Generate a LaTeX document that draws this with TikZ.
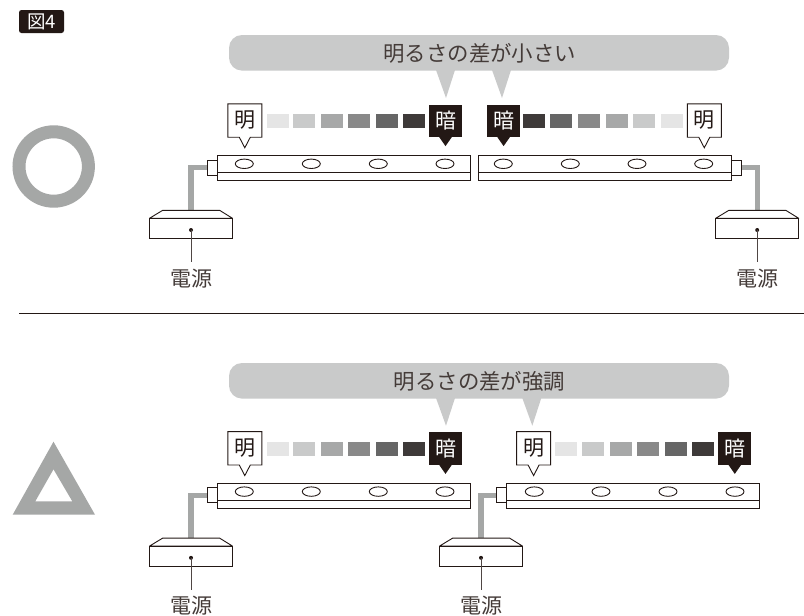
\documentclass[tikz,border=0pt]{standalone}
\usepackage{fontspec}
\setmainfont{Noto Sans CJK JP}
\usetikzlibrary{calc,shapes.geometric}
\pgfdeclarelayer{cablelayer}
\pgfsetlayers{cablelayer,main}
\definecolor{ink}{HTML}{231815}
\definecolor{bub}{HTML}{C9CACA}
\definecolor{ratecol}{HTML}{A5A7A6}
\definecolor{gA}{HTML}{E5E5E5}
\definecolor{gB}{HTML}{C9CACA}
\definecolor{gC}{HTML}{A7A8A8}
\definecolor{gD}{HTML}{898989}
\definecolor{gE}{HTML}{666666}
\definecolor{gF}{HTML}{3E3A39}
\tikzset{
  thinline/.style={draw=ink,line width=0.9pt},
  barbox/.style={thinline,fill=white,rectangle,inner sep=0pt,outer sep=0pt,anchor=north west},
  plugbox/.style={thinline,fill=white,rectangle,inner sep=0pt,outer sep=0pt,minimum width=10pt,minimum height=15pt},
  cable/.style={draw=ratecol,line width=5.4pt},
  led/.style={thinline,fill=white,ellipse,inner sep=0pt,minimum width=18pt,minimum height=9.4pt},
  swatch/.style={rectangle,inner sep=0pt,outer sep=0pt,minimum width=22pt,minimum height=14pt,anchor=north west},
  calltext/.style={rectangle,inner sep=0pt,outer sep=0pt,minimum width=34pt,minimum height=33.4pt,font=\fontsize{21}{21}\selectfont,text=ink},
  darktext/.style={rectangle,inner sep=0pt,outer sep=0pt,minimum width=33pt,minimum height=32.6pt,font=\fontsize{21}{21}\selectfont,text=white,fill=ink},
  psulabel/.style={inner sep=0pt,outer sep=0pt,font=\fontsize{21}{21}\selectfont,text=ink!85!white,minimum height=16pt},
  bubble/.style={fill=bub,rectangle,rounded corners=13pt,inner sep=0pt,outer sep=0pt,minimum width=500pt,minimum height=35.6pt},
  bubtext/.style={inner sep=0pt,font=\fontsize{21.4}{21.4}\selectfont,text=ink!85!white},
  leader/.style={draw=ink!80!white,line width=0.9pt},
}
% \psubox{id}{centre x}{y offset}
\newcommand{\psubox}[3]{%
  \path (#2,210.3+#3) coordinate (#1top);
  \begin{pgfonlayer}{cablelayer}
    \draw[cable] (#1plug.center) -| (#1top);
  \end{pgfonlayer}
  \draw[thinline,fill=white,line join=round] ($(#1top)+(-28.3,0)$) -- ($(#1top)+(28.6,0)$) -- ($(#1top)+(41.5,8)$) -- ($(#1top)+(-41.5,8)$) -- cycle;
  \node[barbox,minimum width=83pt,minimum height=20pt] (#1body) at ($(#1top)+(-41.5,8)$) {};
  \coordinate (#1dot) at (#2,230+#3);
  \fill[ink] (#1dot) circle (2pt);
  \node[psulabel] (#1lab) at (#2,278.3+#3) {電源};
  \draw[leader] (#1dot) -- ($(#1lab.north)+(0,-6.5)$);
}
% \strip{id}{left}{right}{y offset}{led1}{led2}{led3}{led4}
\newcommand{\strip}[8]{%
  \node[barbox,minimum width={#3-#2},minimum height=25pt] (#1bar) at (#2,155.3+#4) {};
  \draw[thinline] (#2,172.3+#4) -- (#3,172.3+#4);
  \node[led] (#1a) at (#5,163.8+#4) {};
  \node[led] (#1b) at (#6,163.8+#4) {};
  \node[led] (#1c) at (#7,163.8+#4) {};
  \node[led] (#1d) at (#8,163.8+#4) {};
}
% \lightcall{id}{centre x}{y offset}
\newcommand{\lightcall}[3]{%
  \node[calltext] (#1) at (#2,120.5+#3) {明};
  \draw[thinline,miter limit=10] (#1.north west) -- (#1.north east) -- (#1.south east)
    -- ($(#1.south)+(5.5,0)$) -- ($(#1.south)+(0,10.6)$) -- ($(#1.south)+(-5.5,0)$) -- (#1.south west) -- cycle;
}
\newcommand{\darkcall}[3]{%
  \node[darktext] (#1) at (#2,120.8+#3) {暗};
  \fill[ink] ($(#1.south)+(6.3,0)$) -- ($(#1.south)+(0,9)$) -- ($(#1.south)+(-6.3,0)$) -- cycle;
}
% \swatches{id}{five x positions}{y offset}{colour prefix}
\newcommand{\swatches}[8]{%
  \node[swatch,fill=#8A] (#1a) at (#2,114+#7) {};
  \node[swatch,fill=#8B] (#1b) at (#3,114+#7) {};
  \node[swatch,fill=#8C] (#1c) at (#4,114+#7) {};
  \node[swatch,fill=#8D] (#1d) at (#5,114+#7) {};
  \node[swatch,fill=#8E] (#1e) at (#6,114+#7) {};
}
\begin{document}
\begin{tikzpicture}[x=1pt,y=-1pt]
\useasboundingbox (0,0) rectangle (804,616);
\begin{pgfonlayer}{cablelayer}
\fill[white] (0,0) rectangle (804,616);
\end{pgfonlayer}

% badge
\node[fill=ink,rounded corners=2.5pt,minimum width=45pt,minimum height=23pt,inner sep=0pt,text=white,font=\fontsize{18.5}{18.5}\selectfont] (badge) at (41.5,21.5) {図4};

% rating marks
\draw[ratecol,line width=13pt] (53.7,166.5) circle (34.7pt);
\fill[ratecol,even odd rule] (53.5,441.7) -- (95,514.7) -- (12.7,514.7) -- cycle
  (53.5,469.3) -- (72.3,501.3) -- (35.3,501.3) -- cycle;

% divider
\coordinate (divL) at (19,313.5);
\coordinate (divR) at (804,313.5);
\draw[ink,line width=0.8pt] (divL) -- (divR);

% ---------- upper panel
\fill[bub] (436,70) -- (446,98) -- (455,70) -- cycle;
\fill[bub] (492,70) -- (502,98) -- (511,70) -- cycle;
\node[bubble] (bubT) at (479,52.8) {};
\node[bubtext] (bubTt) at (479.7,53) {明るさの差が小さい};

\swatches{sa}{266.7}{293}{321}{348}{376}{0}{g}
\node[swatch,fill=gF] (saf) at (403,114) {};
\lightcall{m1}{244.8}{0}
\darkcall{d1}{445.5}{0}
\strip{s1}{217}{470}{0}{244.3}{311.3}{378.3}{445}
\node[plugbox] (p1plug) at (212,167.5) {};
\psubox{p1}{191}{0}

\node[swatch,fill=gF] (sbf) at (523.3,114) {};
\node[swatch,fill=gE] (sbe) at (550.3,114) {};
\node[swatch,fill=gD] (sbd) at (578.3,114) {};
\node[swatch,fill=gC] (sbc) at (606.3,114) {};
\node[swatch,fill=gB] (sbb) at (633.3,114) {};
\node[swatch,fill=gA] (sba) at (661.3,114) {};
\darkcall{d2}{503.6}{0}
\lightcall{m2}{704.3}{0}
\strip{s2}{478.7}{731.3}{0}{503.3}{570.3}{637}{703.7}
\node[plugbox] (p2plug) at (736.3,167.5) {};
\psubox{p2}{757.2}{0}

% ---------- lower panel
\fill[bub] (436,398) -- (446,425.7) -- (455,398) -- cycle;
\fill[bub] (522.3,398) -- (532.3,425.7) -- (541.3,398) -- cycle;
\node[bubble] (bubB) at (479,380.8) {};
\node[bubtext] (bubBt) at (479.5,381) {明るさの差が強調};

\swatches{sc}{266.7}{293}{321}{348}{376}{327.8}{g}
\node[swatch,fill=gF] (scf) at (403,441.8) {};
\lightcall{m3}{244.8}{327.8}
\darkcall{d3}{445.5}{327.8}
\strip{s3}{217}{470}{327.8}{244.3}{311.3}{378.3}{445}
\node[plugbox] (p3plug) at (212,495.3) {};
\psubox{p3}{191}{327.8}

\swatches{sd}{555.3}{582.3}{610.3}{637.3}{665.3}{327.8}{g}
\node[swatch,fill=gF] (sdf) at (692.3,441.8) {};
\lightcall{m4}{533.6}{327.8}
\darkcall{d4}{734.8}{327.8}
\strip{s4}{506.7}{759.7}{327.8}{534.3}{601}{668}{735}
\node[plugbox] (p4plug) at (501.7,495.3) {};
\psubox{p4}{481}{327.8}
\end{tikzpicture}
\end{document}
